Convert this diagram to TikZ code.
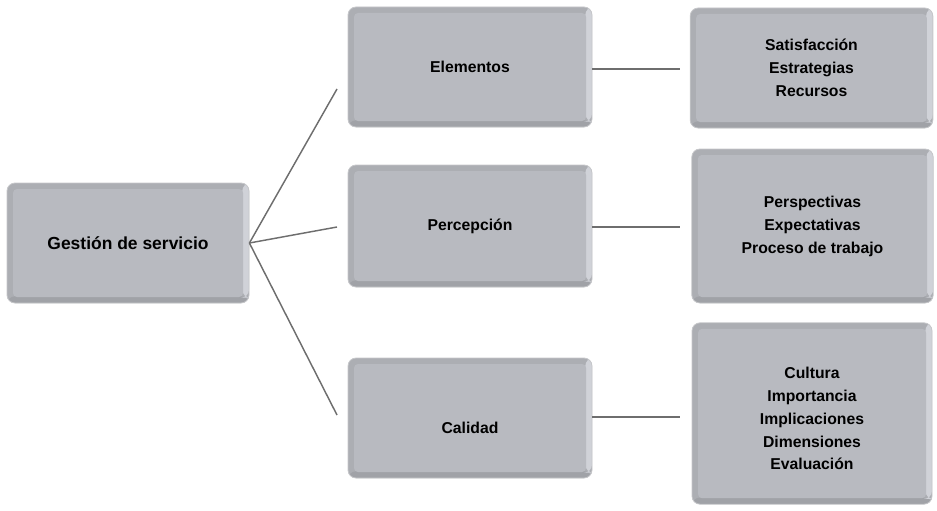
\documentclass[tikz,border=0pt]{standalone}
\usepackage{fontspec}
\setmainfont{Liberation Sans}
\definecolor{face}{HTML}{B8BAC0}
\definecolor{bevtop}{HTML}{ACAEB3}
\definecolor{bevbot}{HTML}{A0A2A7}
\definecolor{bevright}{HTML}{D0D2D8}
\definecolor{edgec}{HTML}{C6C7CA}
\definecolor{linec}{HTML}{6E6E6E}
\tikzset{
  gbox/.style={rounded corners=6pt, draw=edgec, line width=0.6pt, fill=bevtop,
    align=center, inner sep=0pt, text=black,
    font=\bfseries\fontsize{11.8}{17.2}\selectfont,
    path picture={
      \fill[bevbot] ([yshift=5pt]path picture bounding box.south west) rectangle (path picture bounding box.south east);
      \fill[bevright] ([xshift=-5pt]path picture bounding box.north east) rectangle ([yshift=4pt]path picture bounding box.south east);
      \fill[face, rounded corners=3pt] ([shift={(4.5pt,-4.5pt)}]path picture bounding box.north west) rectangle ([shift={(-4.5pt,4.5pt)}]path picture bounding box.south east);
    }},
  conn/.style={draw=linec, line width=1.1pt},
}
\begin{document}
\begin{tikzpicture}[x=0.75pt, y=-0.75pt]
\useasboundingbox (0,0) rectangle (937,510);
% left box
\node[gbox, minimum width=181.5pt, minimum height=90pt, font=\bfseries\fontsize{13.1}{17}\selectfont] (g) at (128,243) {Gestión de servicio};
% middle boxes
\node[gbox, minimum width=183pt, minimum height=90pt] (e) at (470,67) {Elementos};
\node[gbox, minimum width=183pt, minimum height=91.5pt] (p) at (470,226) {Percepción};
\node[gbox, minimum width=183pt, minimum height=90pt] (c) at (470,418) {\raisebox{-7.5pt}[\height][\depth]{Calidad}};
% right boxes
\node[gbox, minimum width=182pt, minimum height=90pt] (s) at (811.5,68) {Satisfacción\\Estrategias\\Recursos};
\node[gbox, minimum width=181pt, minimum height=115.5pt] (pe) at (812.5,226) {Perspectivas\\Expectativas\\Proceso de trabajo};
\node[gbox, minimum width=180pt, minimum height=136pt] (cu) at (812,413.5) {\raisebox{-4.5pt}[\height][\depth]{\begin{tabular}{@{}c@{}}Cultura\\Importancia\\Implicaciones\\Dimensiones\\Evaluación\end{tabular}}};
% connector ends
\coordinate (ge) at (337,89);
\coordinate (gp) at (337,227);
\coordinate (gc) at (337,415);
\coordinate (es) at (680,69);
\coordinate (pp) at (680,227);
\coordinate (cc) at (680,417);
\draw[conn] (g.east) -- (ge);
\draw[conn] (g.east) -- (gp);
\draw[conn] (g.east) -- (gc);
\draw[conn] (e.east |- es) -- (es);
\draw[conn] (p.east |- pp) -- (pp);
\draw[conn] (c.east |- cc) -- (cc);
\end{tikzpicture}
\end{document}
